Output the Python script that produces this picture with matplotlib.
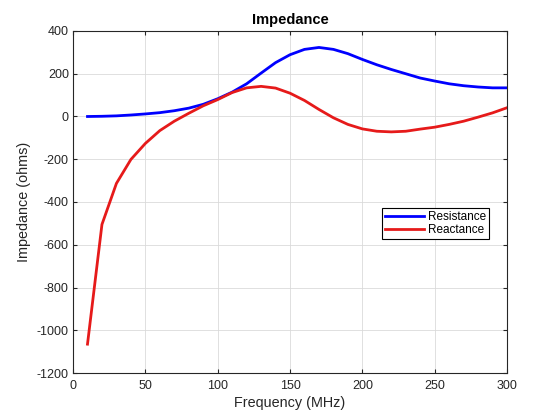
import numpy as np
import matplotlib.pyplot as plt

plt.rcParams['font.family'] = ['Liberation Sans', 'DejaVu Sans']
plt.rcParams['axes.unicode_minus'] = False

freq = np.arange(10, 301, 10)
resistance = [0, 1, 3, 7, 12, 18, 27, 39, 57, 83,
              114, 153, 203, 252, 289, 314, 323, 314, 294, 267,
              242, 220, 200, 180, 166, 153, 144, 138, 134, 134]
reactance = [-1065, -505, -313, -201, -126, -66, -22, 15, 50, 79,
             112, 134, 141, 133, 109, 75, 33, -6, -37, -58,
             -69, -72, -69, -59, -50, -37, -22, -3, 17, 41]

fig = plt.figure(figsize=(5.6, 4.2), dpi=100)
ax = fig.add_axes([0.1304, 0.1119, 0.775, 0.8143])

ax.plot(freq, resistance, color=(0, 0, 1), lw=2, label='Resistance')
ax.plot(freq, reactance, color=(0.9, 0.1, 0.1), lw=2, label='Reactance')

ax.set_xlim(0, 300)
ax.set_ylim(-1200, 400)
ax.set_xticks(np.arange(0, 301, 50))
ax.set_yticks(np.arange(-1200, 401, 200))
ax.grid(True, color='#dadada', lw=0.6)
ax.set_axisbelow(True)
ax.tick_params(direction='in', top=True, right=True, labelsize=9, length=3,
               colors='#262626', pad=3)
ax.tick_params(axis='x', pad=5)
for s in ax.spines.values():
    s.set_color('#262626')
    s.set_linewidth(0.8)

ax.set_xlabel('Frequency (MHz)', fontsize=10.4, color='#262626', labelpad=3)
ax.set_ylabel('Impedance (ohms)', fontsize=10.4, color='#262626', labelpad=4)
ax.set_title('Impedance', fontsize=10.5, fontweight='bold', pad=5)

leg = ax.legend(loc='lower right', bbox_to_anchor=(0.958, 0.392), fontsize=8.5,
                fancybox=False, edgecolor='black', framealpha=1,
                borderpad=0.25, labelspacing=0.05, handlelength=3.3,
                handletextpad=0.3, borderaxespad=0)
leg.get_frame().set_linewidth(0.8)

fig.savefig('out.png', dpi=100)
